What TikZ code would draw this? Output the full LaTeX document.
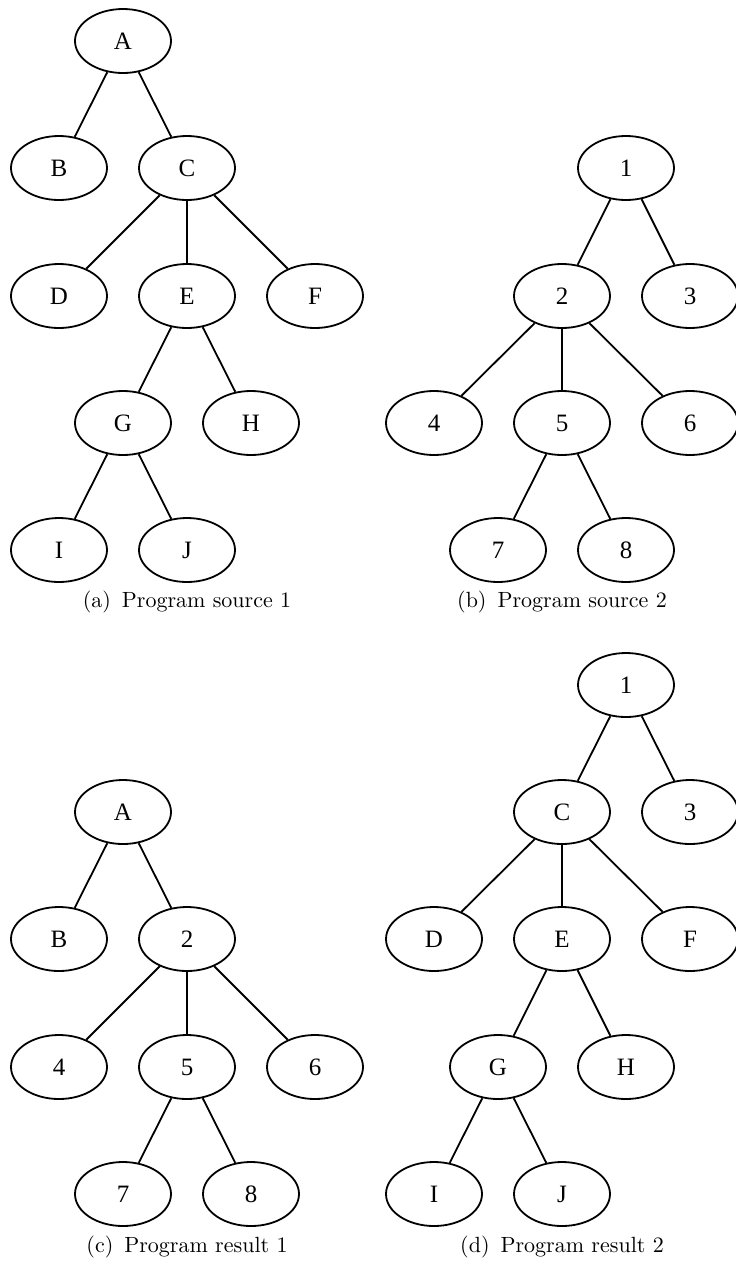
\documentclass[tikz,border=0pt]{standalone}
\usepackage{fontspec}
\newfontfamily\nodefont{Liberation Serif}
\newfontfamily\capfont{lmroman10-regular}[Extension=.otf]
\usetikzlibrary{shapes.geometric}
\begin{document}
\begin{tikzpicture}[x=1pt,y=-1pt,
  tn/.style={draw,ellipse,line width=1.8pt,minimum width=96pt,minimum height=64pt,inner sep=0pt,font=\nodefont\fontsize{25}{30}\selectfont},
  ed/.style={line width=1.8pt},
  captext/.style={font=\capfont\fontsize{22}{26}\selectfont,inner sep=0pt}]
\useasboundingbox (0,0) rectangle (736,1280);
% (a)
\node[tn] (aA) at (123,41) {A};
\node[tn] (aB) at (59,168) {B};
\node[tn] (aC) at (187,168) {C};
\node[tn] (aD) at (59,296) {D};
\node[tn] (aE) at (187,296) {E};
\node[tn] (aF) at (315,296) {F};
\node[tn] (aG) at (123,423) {G};
\node[tn] (aH) at (251,423) {H};
\node[tn] (aI) at (59,550) {I};
\node[tn] (aJ) at (187,550) {J};
\draw[ed] (aA)--(aB) (aA)--(aC) (aC)--(aD) (aC)--(aE) (aC)--(aF) (aE)--(aG) (aE)--(aH) (aG)--(aI) (aG)--(aJ);
\node[captext] (capa) at (187,602) {(a)\hspace{0.5em}Program source 1};
% (b)
\node[tn] (b1) at (626,168) {1};
\node[tn] (b2) at (562,296) {2};
\node[tn] (b3) at (690,296) {3};
\node[tn] (b4) at (434,423) {4};
\node[tn] (b5) at (562,423) {5};
\node[tn] (b6) at (690,423) {6};
\node[tn] (b7) at (498,550) {7};
\node[tn] (b8) at (626,550) {8};
\draw[ed] (b1)--(b2) (b1)--(b3) (b2)--(b4) (b2)--(b5) (b2)--(b6) (b5)--(b7) (b5)--(b8);
\node[captext] (capb) at (562,602) {(b)\hspace{0.5em}Program source 2};
% (c)
\node[tn] (cA) at (123,812) {A};
\node[tn] (cB) at (59,939) {B};
\node[tn] (c2) at (187,939) {2};
\node[tn] (c4) at (59,1067) {4};
\node[tn] (c5) at (187,1067) {5};
\node[tn] (c6) at (315,1067) {6};
\node[tn] (c7) at (123,1194) {7};
\node[tn] (c8) at (251,1194) {8};
\draw[ed] (cA)--(cB) (cA)--(c2) (c2)--(c4) (c2)--(c5) (c2)--(c6) (c5)--(c7) (c5)--(c8);
\node[captext] (capc) at (187,1247) {(c)\hspace{0.5em}Program result 1};
% (d)
\node[tn] (d1) at (626,685) {1};
\node[tn] (dC) at (562,812) {C};
\node[tn] (d3) at (690,812) {3};
\node[tn] (dD) at (434,939) {D};
\node[tn] (dE) at (562,939) {E};
\node[tn] (dF) at (690,939) {F};
\node[tn] (dG) at (498,1067) {G};
\node[tn] (dH) at (626,1067) {H};
\node[tn] (dI) at (434,1194) {I};
\node[tn] (dJ) at (562,1194) {J};
\draw[ed] (d1)--(dC) (d1)--(d3) (dC)--(dD) (dC)--(dE) (dC)--(dF) (dE)--(dG) (dE)--(dH) (dG)--(dI) (dG)--(dJ);
\node[captext] (capd) at (562,1247) {(d)\hspace{0.5em}Program result 2};
\end{tikzpicture}
\end{document}
